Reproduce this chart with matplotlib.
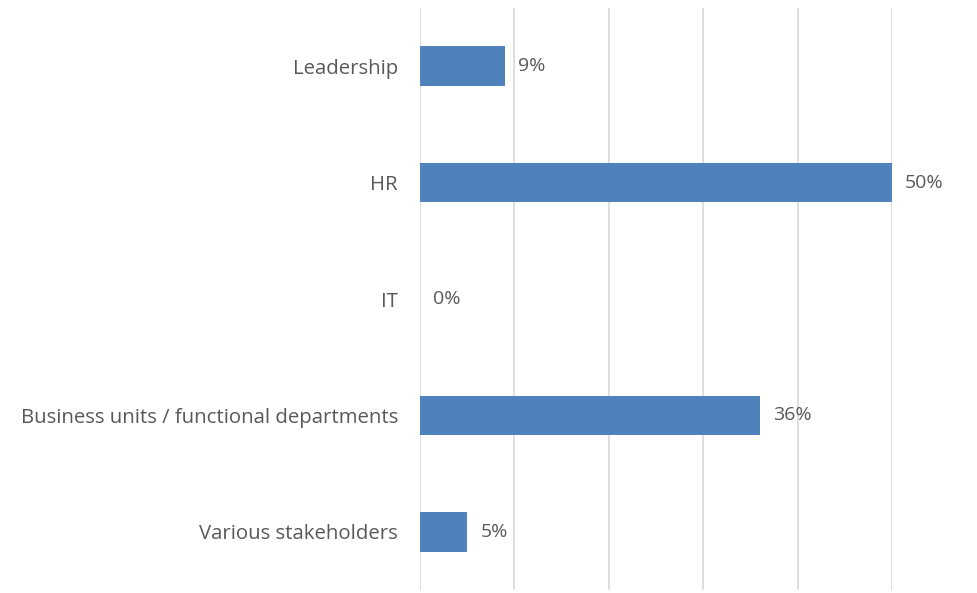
import numpy as np
import matplotlib.pyplot as plt

categorias = ['Leadership', 'HR', 'IT',
              'Business units / functional departments', 'Various stakeholders']
valores = [9, 50, 0, 36, 5]

plt.rcParams['font.family'] = ['Open Sans', 'DejaVu Sans']

fig = plt.figure(figsize=(9.77, 5.93), dpi=100)
ax = fig.add_axes([0.43, 0.005, 0.483, 0.9815])

y = np.arange(len(categorias))
ax.barh(y, valores, height=0.34, color='#4f81bd', zorder=3)

for yi, v in zip(y, valores):
    ax.annotate('%d%%' % v, (v, yi), xytext=(9.5, 0), textcoords='offset points',
                va='center', ha='left', fontsize=14, color='#595959')

ax.set_xlim(0, 50)
ax.set_ylim(len(categorias) - 0.5, -0.5)
ax.set_xticks(np.arange(0, 51, 10))
ax.set_xticklabels([])
ax.tick_params(axis='x', length=0)
ax.set_yticks(y)
ax.set_yticklabels(categorias, fontsize=14.7, color='#595959')
ax.tick_params(axis='y', length=0, pad=16)
ax.grid(axis='x', color='#d9d9d9', linewidth=1.2, zorder=0)
for s in ax.spines.values():
    s.set_visible(False)

fig.savefig('out.png', dpi=100)
